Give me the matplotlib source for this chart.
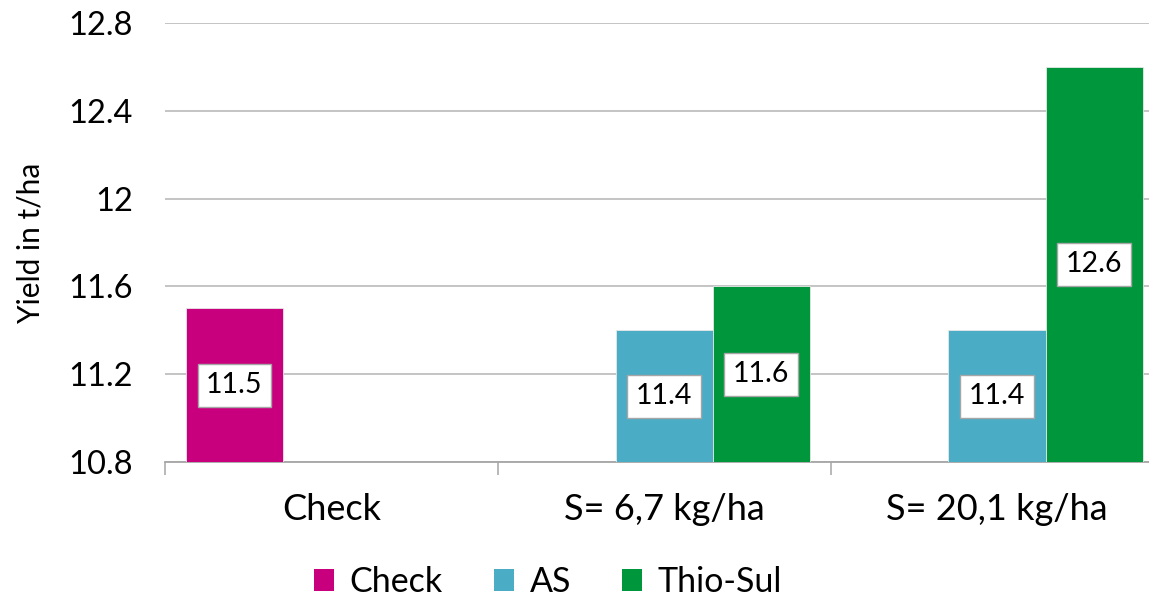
#!/usr/bin/env python3
# -*- coding: utf-8 -*-

# Yield in t/ha: Check vs AS vs Thio-Sul at two sulphur rates.
# Clustered bars, value labels in white boxes, legend under the chart.

import numpy as np
import matplotlib
matplotlib.use("Agg")
import matplotlib.pyplot as plt
from matplotlib.patches import Patch

# Data (NaN = no bar in that group)
categories = ["Check", "S= 6,7 kg/ha", "S= 20,1 kg/ha"]
series_names = ["Check", "AS", "Thio-Sul"]
check_vals = [11.5, np.nan, np.nan]
as_vals = [np.nan, 11.4, 11.4]
thio_vals = [np.nan, 11.6, 12.6]
y_ticks = [10.8, 11.2, 11.6, 12.0, 12.4, 12.8]
y_tick_labels = ["10.8", "11.2", "11.6", "12", "12.4", "12.8"]

colors = ["#C8007D", "#4BACC6", "#00963C"]
grid_color = "#BFBFBF"
FONT = ["Lato", "DejaVu Sans"]


def value_label(ax, x, y, base):
    # Label in the middle of the bar, white box with thin gray frame
    ax.text(x, (y + base) / 2, f"{y:.1f}", ha="center", va="center",
            fontsize=20.5, family=FONT, color="black", zorder=5,
            bbox=dict(boxstyle="square,pad=0.3", fc="white",
                      ec="#A6A6A6", lw=1.0))


def main():
    plt.rcParams["font.family"] = FONT
    fig = plt.figure(figsize=(11.49, 5.98), dpi=100)
    # axes run a bit past the right edge, the way the original is cropped
    ax = fig.add_axes([165 / 1149, 1 - 462 / 598, 998.4 / 1149, 439 / 598])

    base = y_ticks[0]
    x = np.arange(len(categories))
    w = 0.2915
    all_vals = [check_vals, as_vals, thio_vals]
    for i, (vals, col) in enumerate(zip(all_vals, colors)):
        xs = x + (i - 1) * w
        ax.bar(xs, vals, width=w, color=col, edgecolor="#E8E8E8",
               linewidth=0.6, zorder=3)
        for xi, v in zip(xs, vals):
            if not np.isnan(v):
                value_label(ax, xi, v, base)

    ax.set_xlim(-0.5, len(categories) - 0.5)
    ax.set_ylim(base, y_ticks[-1])

    # y axis: gridlines only, no spine
    ax.set_yticks(y_ticks)
    ax.set_yticklabels(y_tick_labels, fontsize=23.5)
    ax.tick_params(axis="y", length=0, pad=23)
    ax.grid(axis="y", color=grid_color, linewidth=1.3, zorder=0)
    ax.set_ylabel("Yield in t/ha", fontsize=21.5, labelpad=17)

    # x axis: tick marks between groups, labels at group centres
    ax.set_xticks(np.arange(len(categories) + 1) - 0.5)
    ax.set_xticklabels([])
    ax.tick_params(axis="x", which="major", length=9, width=1.1,
                   color="#A6A6A6")
    ax.set_xticks(x, minor=True)
    ax.set_xticklabels(categories, minor=True, fontsize=26)
    ax.tick_params(axis="x", which="minor", length=0, pad=22)

    for s in ["left", "right", "top"]:
        ax.spines[s].set_visible(False)
    ax.spines["bottom"].set_color("#A6A6A6")
    ax.spines["bottom"].set_linewidth(1.3)

    handles = [Patch(facecolor=c, edgecolor="none") for c in colors]
    fig.legend(handles, series_names, loc="center",
               bbox_to_anchor=(548 / 1149, 1 - 582 / 598), ncol=3,
               frameon=False, fontsize=24.5, handlelength=0.6,
               handleheight=0.6, handletextpad=0.45, columnspacing=1.5)

    fig.savefig("out.png", dpi=100)
    plt.close(fig)


if __name__ == "__main__":
    main()
